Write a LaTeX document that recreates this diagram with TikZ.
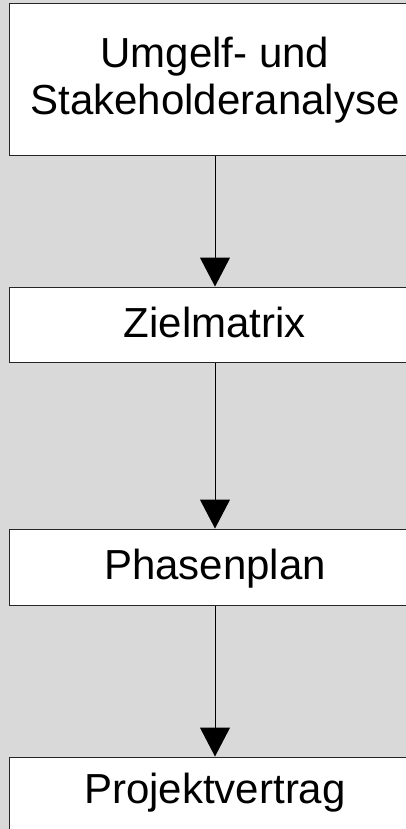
\documentclass[tikz,border=0pt]{standalone}
\usepackage{fontspec}
\setmainfont{Liberation Sans}
\usetikzlibrary{arrows.meta}
\definecolor{canvas}{HTML}{D9D9D9}
\definecolor{frame}{HTML}{262626}
\begin{document}
\begin{tikzpicture}[x=1pt,y=-1pt,
  stage/.style={draw=frame, fill=white, line width=1pt, inner sep=0pt,
    minimum width=412pt, font=\fontsize{42}{47}\selectfont, align=center},
  flow/.style={draw=black, line width=1pt, -{Triangle[width=30pt,length=29pt]}}]
  % grey canvas
  \fill[canvas] (0,0) rectangle (406,829);
  \useasboundingbox (0,0) rectangle (406,829);
  % process steps
  \node[stage, minimum height=152pt] (env) at (215,80) {Umgelf- und\\Stakeholderanalyse};
  \node[stage, text height=50pt, text depth=25pt, anchor=base] (goal) at (215,337) {Zielmatrix};
  \node[stage, text height=50pt, text depth=26pt, anchor=base] (phase) at (215,579) {Phasenplan};
  \node[stage, text height=46pt, text depth=30pt, anchor=base] (contract) at (215,803) {Projektvertrag};
  % connectors
  \draw[flow] (env.south) -- (goal.north);
  \draw[flow] (goal.south) -- (phase.north);
  \draw[flow] (phase.south) -- (contract.north);
\end{tikzpicture}
\end{document}
